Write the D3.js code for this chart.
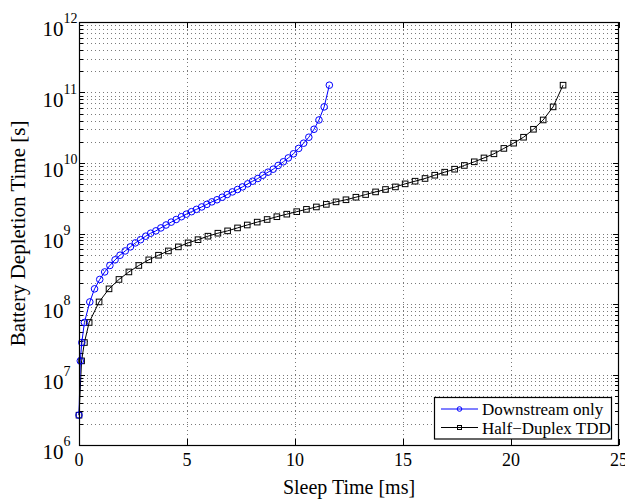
<!DOCTYPE html>
<html>
<head>
<meta charset="utf-8">
<script src="https://cdn.jsdelivr.net/npm/d3@7"></script>
<style>
  body { margin: 0; background: #fff; }
  svg text { font-family: "Liberation Serif", "Times New Roman", serif; fill: #000; }
</style>
</head>
<body>
<div id="chart"></div>
<script>
// sleep time [ms] at each marker
var downstreamSleep = [0, 0.06, 0.13, 0.25, 0.5, 0.72, 0.96, 1.19, 1.43, 1.67, 1.9, 2.14, 2.38,
  2.61, 2.85, 3.09, 3.32, 3.56, 3.79, 4.03, 4.27, 4.5, 4.74, 4.97, 5.21, 5.44, 5.68, 5.92,
  6.15, 6.39, 6.63, 6.86, 7.1, 7.34, 7.57, 7.81, 8.04, 8.28, 8.51, 8.75, 8.99, 9.22, 9.46,
  9.69, 9.93, 10.17, 10.4, 10.64, 10.88, 11.11, 11.35, 11.59];

var duplexSleep = [0, 0.12, 0.25, 0.47, 0.93, 1.39, 1.85, 2.31, 2.77, 3.23, 3.68, 4.14, 4.6,
  5.05, 5.51, 5.97, 6.43, 6.88, 7.34, 7.79, 8.25, 8.71, 9.16, 9.62, 10.08, 10.53, 10.99, 11.45,
  11.9, 12.36, 12.82, 13.27, 13.73, 14.19, 14.65, 15.1, 15.56, 16.02, 16.47, 16.93, 17.39, 17.84,
  18.3, 18.75, 19.21, 19.67, 20.12, 20.58, 21.04, 21.49, 21.95, 22.41];

// battery depletion time [s], same read for both curves (they sit at the same heights)
var depletionTime = [2.65e6, 1.56e7, 2.84e7, 5.47e7, 1.07e8, 1.64e8, 2.23e8, 2.85e8, 3.52e8,
  4.23e8, 4.92e8, 5.66e8, 6.46e8, 7.36e8, 8.17e8, 9.16e8, 1.01e9, 1.09e9, 1.20e9, 1.32e9,
  1.45e9, 1.58e9, 1.73e9, 1.88e9, 2.04e9, 2.20e9, 2.38e9, 2.59e9, 2.81e9, 3.01e9, 3.27e9,
  3.57e9, 3.89e9, 4.21e9, 4.58e9, 5.06e9, 5.52e9, 6.03e9, 6.71e9, 7.41e9, 8.17e9, 9.23e9,
  1.04e10, 1.18e10, 1.35e10, 1.61e10, 1.91e10, 2.32e10, 3.01e10, 4.08e10, 6.25e10, 1.27e11];

var xTicks = [0, 5, 10, 15, 20, 25];
var yExponents = [6, 7, 8, 9, 10, 11, 12];
var seriesNames = ["Downstream only", "Half\u2212Duplex TDD"];

var W = 625, H = 499;
var plotL = 79, plotR = 619, plotT = 22, plotB = 445;

var svg = d3.select('#chart')
  .append('svg')
  .attr('width', W)
  .attr('height', H);

var x = d3.scaleLinear().domain([0, 25]).range([plotL, plotR]);
var y = d3.scaleLog().domain([1e6, 1e12]).range([plotB, plotT]);

var yMajor = yExponents.map(e => Math.pow(10, e));
var yAll = y.ticks();

// dotted grid
var grid = svg.append('g')
  .attr('stroke', '#7a7a7a')
  .attr('stroke-width', 1)
  .attr('stroke-dasharray', '1,3');

grid.selectAll('.hgrid')
  .data(yAll.filter(d => d > 1e6 && d < 1e12))
  .enter().append('line')
  .attr('x1', plotL).attr('x2', plotR)
  .attr('y1', d => Math.round(y(d)) + 0.5)
  .attr('y2', d => Math.round(y(d)) + 0.5);

grid.selectAll('.vgrid')
  .data(xTicks.filter(d => d > 0 && d < 25))
  .enter().append('line')
  .attr('y1', plotT).attr('y2', plotB)
  .attr('x1', d => Math.round(x(d)) + 0.5)
  .attr('x2', d => Math.round(x(d)) + 0.5);

// ticks (inside, on all four sides)
var ticks = svg.append('g').attr('stroke', '#000').attr('stroke-width', 1);
xTicks.forEach(function (t) {
  var px = Math.round(x(t)) + 0.5;
  ticks.append('line').attr('x1', px).attr('x2', px).attr('y1', plotB).attr('y2', plotB - 6);
  ticks.append('line').attr('x1', px).attr('x2', px).attr('y1', plotT).attr('y2', plotT + 6);
});
yAll.forEach(function (t) {
  var py = Math.round(y(t)) + 0.5;
  var len = yMajor.indexOf(t) >= 0 ? 6 : 4;
  ticks.append('line').attr('x1', plotL).attr('x2', plotL + len).attr('y1', py).attr('y2', py);
  ticks.append('line').attr('x1', plotR).attr('x2', plotR - len).attr('y1', py).attr('y2', py);
});

// series
var series = [
  { name: seriesNames[0], xs: downstreamSleep, color: '#0000ff', marker: 'circle' },
  { name: seriesNames[1], xs: duplexSleep, color: '#000000', marker: 'square' }
];

var line = d3.line()
  .x(d => x(d[0]))
  .y(d => y(d[1]));

series.slice().reverse().forEach(function (s) {
  var pts = s.xs.map((v, i) => [v, depletionTime[i]]);
  svg.append('path')
    .datum(pts)
    .attr('fill', 'none')
    .attr('stroke', s.color)
    .attr('stroke-width', 1)
    .attr('d', line);

  if (s.marker === 'circle') {
    svg.selectAll('.m' + s.marker)
      .data(pts)
      .enter().append('circle')
      .attr('cx', d => x(d[0]))
      .attr('cy', d => y(d[1]))
      .attr('r', 3.3)
      .attr('fill', 'none')
      .attr('stroke', s.color)
      .attr('stroke-width', 1);
  } else {
    svg.selectAll('.m' + s.marker)
      .data(pts)
      .enter().append('rect')
      .attr('x', d => x(d[0]) - 2.8)
      .attr('y', d => y(d[1]) - 2.8)
      .attr('width', 5.6)
      .attr('height', 5.6)
      .attr('fill', 'none')
      .attr('stroke', s.color)
      .attr('stroke-width', 1);
  }
});

// axes box
svg.append('rect')
  .attr('x', plotL + 0.5).attr('y', plotT + 0.5)
  .attr('width', plotR - plotL - 1).attr('height', plotB - plotT)
  .attr('fill', 'none')
  .attr('stroke', '#000')
  .attr('stroke-width', 1.2);

// tick labels
svg.selectAll('.xlab')
  .data(xTicks)
  .enter().append('text')
  .attr('x', d => x(d))
  .attr('y', plotB + 21)
  .attr('text-anchor', 'middle')
  .attr('font-size', '18px')
  .text(d => d);

var ylab = svg.selectAll('.ylab')
  .data(yExponents)
  .enter().append('text')
  .attr('x', 42.5)
  .attr('y', d => y(Math.pow(10, d)) + 14)
  .attr('font-size', '21px')
  .text('10');
ylab.append('tspan')
  .attr('dy', -13)
  .attr('font-size', '14px')
  .text(d => d);

// axis titles
svg.append('text')
  .attr('x', (plotL + plotR) / 2)
  .attr('y', 494)
  .attr('text-anchor', 'middle')
  .attr('font-size', '20px')
  .text('Sleep Time [ms]');

svg.append('text')
  .attr('transform', 'translate(25,' + ((plotT + plotB) / 2) + ') rotate(-90)')
  .attr('text-anchor', 'middle')
  .attr('font-size', '21px')
  .text('Battery Depletion Time [s]');

// legend
var lg = svg.append('g');
lg.append('rect')
  .attr('x', 434.5).attr('y', 397.5)
  .attr('width', 177).attr('height', 41.5)
  .attr('fill', '#fff')
  .attr('stroke', '#000')
  .attr('stroke-width', 1.2);

series.forEach(function (s, i) {
  var ly = 409 + i * 18.5;
  lg.append('line')
    .attr('x1', 441).attr('x2', 478)
    .attr('y1', ly).attr('y2', ly)
    .attr('stroke', s.color).attr('stroke-width', 1);
  if (s.marker === 'circle') {
    lg.append('circle').attr('cx', 459.5).attr('cy', ly).attr('r', 2.3)
      .attr('fill', 'none').attr('stroke', s.color);
  } else {
    lg.append('rect').attr('x', 457.5).attr('y', ly - 2).attr('width', 4).attr('height', 4)
      .attr('fill', 'none').attr('stroke', s.color);
  }
  lg.append('text')
    .attr('x', 482)
    .attr('y', ly + 6)
    .attr('font-size', '17px')
    .text(s.name);
});
</script>
</body>
</html>
